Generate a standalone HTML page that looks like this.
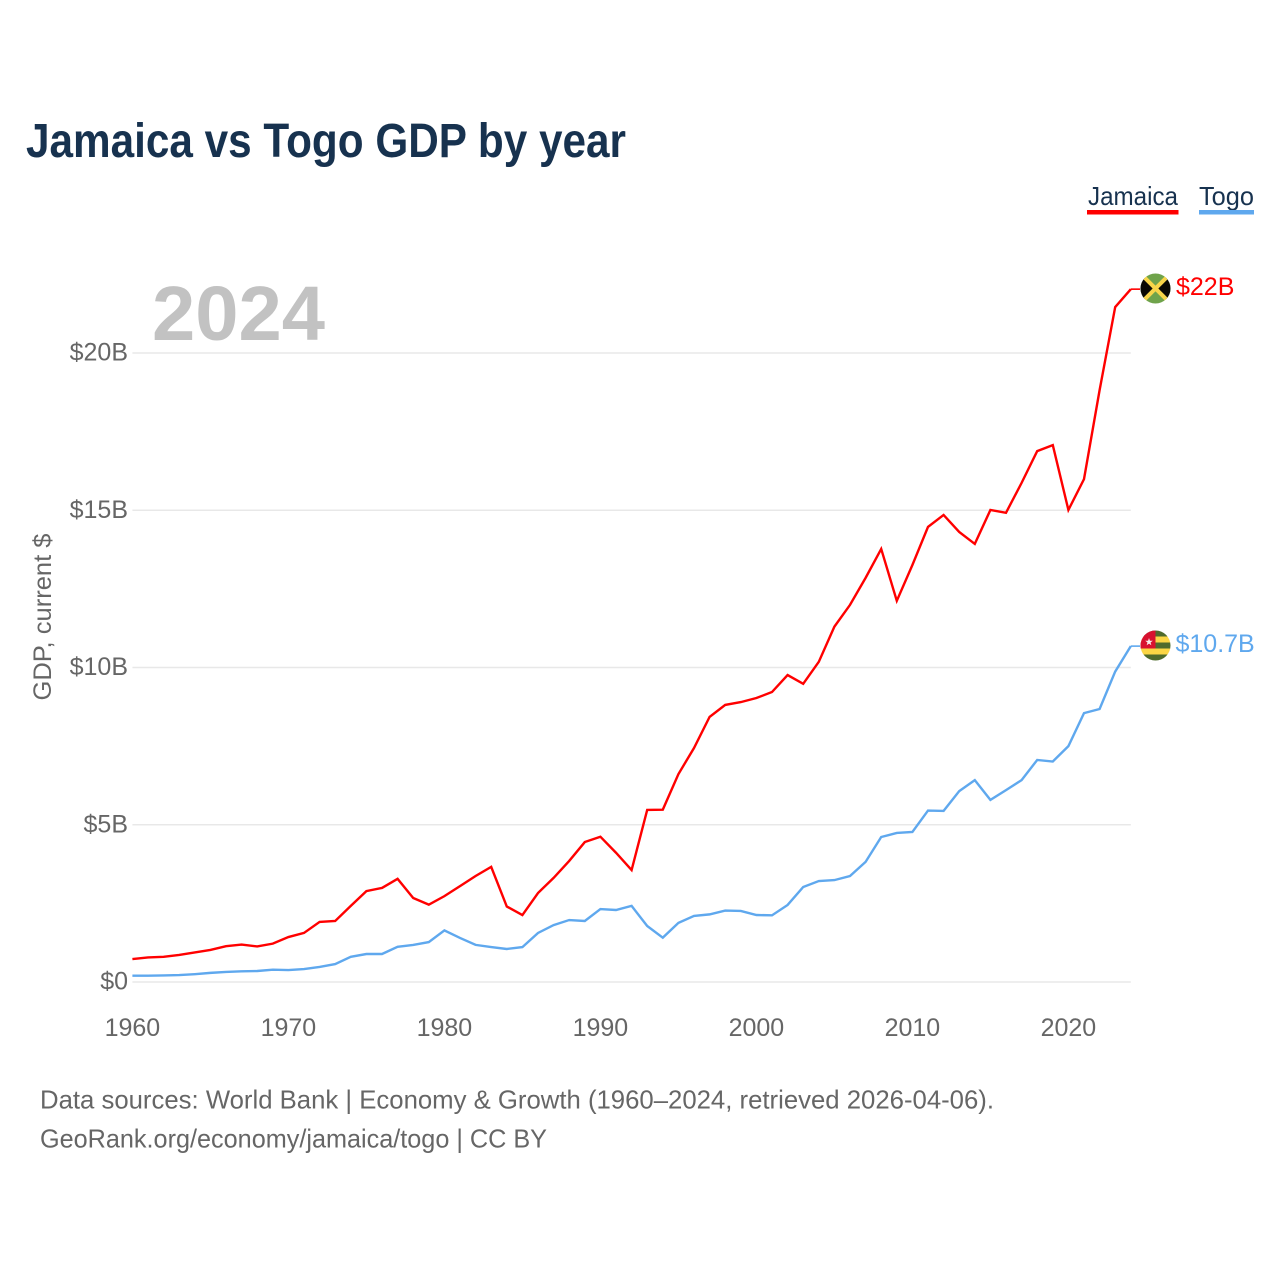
<!DOCTYPE html>
<html lang="en">
<head>
<meta charset="utf-8">
<title>Jamaica vs Togo GDP by year</title>
<style>
html,body{margin:0;padding:0;background:#fff;width:1280px;height:1280px;overflow:hidden}
svg{display:block}
text{font-family:"Liberation Sans",sans-serif}
</style>
</head>
<body>
<svg id="chart" xmlns="http://www.w3.org/2000/svg" width="1280" height="1280" viewBox="0 0 1280 1280">
  <rect x="0" y="0" width="1280" height="1280" fill="#ffffff"/>
  <text x="26" y="157" font-size="48" font-weight="700" fill="#17324f" textLength="600" lengthAdjust="spacingAndGlyphs">Jamaica vs Togo GDP by year</text>

  <g>
    <g>
      <text x="1088" y="205" font-size="26" fill="#17324f" textLength="90" lengthAdjust="spacingAndGlyphs">Jamaica</text>
      <rect x="1087" y="210" width="91.5" height="4.5" fill="#ff0000"/>
    </g>
    <g>
      <text x="1199" y="205" font-size="26" fill="#17324f" textLength="55" lengthAdjust="spacingAndGlyphs">Togo</text>
      <rect x="1199" y="210" width="55" height="4.5" fill="#5fa8ee"/>
    </g>
  </g>

  <text x="152" y="340" font-size="77" font-weight="700" fill="#c2c2c2" textLength="173" lengthAdjust="spacingAndGlyphs">2024</text>
  <text transform="translate(51,617) rotate(-90)" text-anchor="middle" font-size="25" fill="#666666" textLength="167" lengthAdjust="spacingAndGlyphs">GDP, current $</text>

  <g id="grid"></g>
  <g id="yticks"></g>
  <g id="xticks"></g>
  <g id="series"></g>

  <defs>
    <clipPath id="clip-jm"><circle cx="1156" cy="289" r="15"/></clipPath>
    <clipPath id="clip-tg"><circle cx="1156" cy="646" r="15"/></clipPath>
  </defs>

  <g id="flag-jamaica" clip-path="url(#clip-jm)" transform="translate(-0.5,-0.5)">
    <rect x="1141" y="274" width="30" height="30" fill="#6fa34b"/>
    <polygon points="1141,274 1156,289 1141,304" fill="#0a0a05"/>
    <polygon points="1171,274 1156,289 1171,304" fill="#0a0a05"/>
    <line x1="1141" y1="274" x2="1171" y2="304" stroke="#f7d54a" stroke-width="4"/>
    <line x1="1171" y1="274" x2="1141" y2="304" stroke="#f7d54a" stroke-width="4"/>
  </g>

  <g id="flag-togo" clip-path="url(#clip-tg)" transform="translate(-0.5,-0.5)">
    <rect x="1141" y="631" width="30" height="6" fill="#4f6b2c"/>
    <rect x="1141" y="637" width="30" height="6" fill="#fbd645"/>
    <rect x="1141" y="643" width="30" height="6" fill="#4f6b2c"/>
    <rect x="1141" y="649" width="30" height="6" fill="#fbd645"/>
    <rect x="1141" y="655" width="30" height="6" fill="#4f6b2c"/>
    <rect x="1141" y="631" width="15" height="18" fill="#d8112f"/>
    <polygon points="1149.5,638.5 1150.44,641.21 1153.3,641.26 1151.02,642.99 1151.85,645.74 1149.5,644.1 1147.15,645.74 1147.98,642.99 1145.7,641.26 1148.56,641.21" fill="#f6eeee"/>
  </g>

  <text x="1176" y="295" font-size="25" fill="#ff0000">$22B</text>
  <text x="1175.5" y="652" font-size="25" fill="#5fa8ee">$10.7B</text>

  <text x="40" y="1108.5" font-size="26" fill="#666666" textLength="954" lengthAdjust="spacingAndGlyphs">Data sources: World Bank | Economy &amp; Growth (1960–2024, retrieved 2026-04-06).</text>
  <text x="40" y="1147.5" font-size="26" fill="#666666" textLength="507" lengthAdjust="spacingAndGlyphs">GeoRank.org/economy/jamaica/togo | CC BY</text>
</svg>

<script>
const startYear = 1960;
const xTickYears = [1960, 1970, 1980, 1990, 2000, 2010, 2020];
const yTickValues = [0, 5, 10, 15, 20];
const yTickLabels = ["$0", "$5B", "$10B", "$15B", "$20B"];
const jamaicaGdp = [0.73,0.78,0.80,0.86,0.94,1.02,1.14,1.19,1.13,1.22,
  1.43,1.56,1.91,1.94,2.42,2.89,2.99,3.28,2.67,2.46,
  2.73,3.05,3.37,3.66,2.40,2.13,2.83,3.31,3.85,4.45,
  4.62,4.11,3.56,5.47,5.48,6.61,7.44,8.43,8.81,8.90,
  9.03,9.22,9.76,9.48,10.18,11.30,11.99,12.85,13.77,12.12,
  13.26,14.47,14.85,14.31,13.93,15.01,14.92,15.87,16.88,17.07,
  15.01,15.99,18.82,21.46,22.03];
const togoGdp = [0.20,0.20,0.21,0.22,0.25,0.29,0.32,0.34,0.35,0.39,
  0.38,0.41,0.48,0.57,0.80,0.89,0.89,1.12,1.18,1.27,
  1.64,1.40,1.18,1.11,1.05,1.11,1.56,1.81,1.97,1.94,
  2.32,2.29,2.42,1.78,1.41,1.88,2.10,2.15,2.27,2.26,
  2.13,2.12,2.45,3.02,3.21,3.24,3.37,3.82,4.61,4.74,
  4.77,5.45,5.44,6.07,6.42,5.79,6.10,6.42,7.06,7.01,
  7.50,8.55,8.68,9.87,10.68];

const NS = "http://www.w3.org/2000/svg";
function xScale(year) { return 132.4 + (year - 1960) * 15.6; }
function yScale(v) { return 982 - v * 31.45; }
function make(tag, attrs, parent) {
  const el = document.createElementNS(NS, tag);
  for (const k in attrs) el.setAttribute(k, attrs[k]);
  parent.appendChild(el);
  return el;
}

const gridGroup = document.getElementById("grid");
const yGroup = document.getElementById("yticks");
const xGroup = document.getElementById("xticks");
const seriesGroup = document.getElementById("series");
const lastYear = startYear + jamaicaGdp.length - 1;

yTickValues.forEach(function (v, i) {
  const line = make("line", {x1: xScale(startYear), x2: xScale(lastYear), y1: yScale(v), y2: yScale(v), stroke: "#e8e8e8", "stroke-width": 1.6}, gridGroup);
  
  
  const label = make("text", {x: 128, y: yScale(v) + 7.5, "text-anchor": "end", "font-size": 25, fill: "#666666"}, yGroup);
  label.textContent = yTickLabels[i];
  
  
});

xTickYears.forEach(function (year) {
  const label = make("text", {x: xScale(year), y: 1036, "text-anchor": "middle", "font-size": 25, fill: "#666666"}, xGroup);
  label.textContent = String(year);
  
  
});

function linePoints(values) {
  return values.map(function (v, i) {
    return xScale(startYear + i).toFixed(2) + "," + yScale(v).toFixed(2);
  }).join(" ");
}

const jamaicaLine = make("polyline", {points: linePoints(jamaicaGdp), fill: "none", stroke: "#ff0000", "stroke-width": 2.4, "stroke-linejoin": "miter"}, seriesGroup);



const togoLine = make("polyline", {points: linePoints(togoGdp), fill: "none", stroke: "#5fa8ee", "stroke-width": 2.4, "stroke-linejoin": "miter"}, seriesGroup);



const jamaicaEnd = yScale(jamaicaGdp[jamaicaGdp.length - 1]);
const togoEnd = yScale(togoGdp[togoGdp.length - 1]);

const jamaicaLeader = make("line", {x1: xScale(lastYear), x2: 1140, y1: jamaicaEnd, y2: jamaicaEnd, stroke: "#ff0000", "stroke-width": 1.6}, seriesGroup);



const togoLeader = make("line", {x1: xScale(lastYear), x2: 1140, y1: togoEnd, y2: togoEnd, stroke: "#5fa8ee", "stroke-width": 1.6}, seriesGroup);


</script>
</body>
</html>
